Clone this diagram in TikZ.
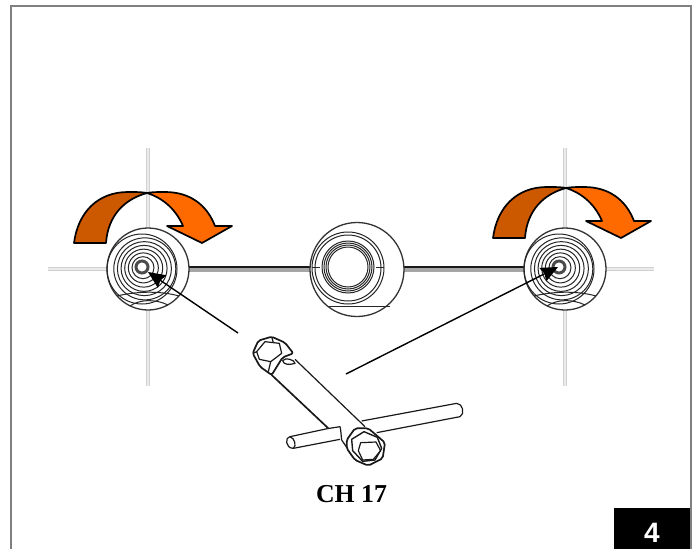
\documentclass[tikz,border=0pt]{standalone}
\usepackage{fontspec}
\setmainfont{Liberation Serif}
\newfontfamily\labelsans{Liberation Sans}
\usepackage{tikz}
\usetikzlibrary{arrows.meta}
\definecolor{turndark}{HTML}{CC5800}
\definecolor{turnlight}{HTML}{FF6A00}

\begin{document}
\begin{tikzpicture}[x=1pt,y=-1pt,
    guideband/.style={line width=4.5pt, black!8},
    guide/.style={line width=1.2pt, black!18},
    ring/.style={line width=1pt, black!85},
    outline/.style={line width=1.3pt, black!80},
    turn/.style={line width=1.7pt, black, line join=round},
    pointer/.style={line width=1.4pt, black, -{Stealth[length=17pt,width=15pt,inset=2pt]}},
    tool/.style={line width=1.2pt, black!90, line join=round}]
      \useasboundingbox (0,0) rectangle (699,549);

      % 外框
      \draw[line width=1.2pt, black!50] (11,549) -- (11,6) -- (691,6) -- (691,549);

      % 十字中心线
      \foreach \hx/\sx/\ex in {148/48/107, 565/605/654} {
        \draw[guideband] (\hx,148) -- (\hx,386);
        \draw[guideband] (\sx,269) -- (\ex,269);
        \draw[guide] (\hx-1.5,148) -- (\hx-1.5,386);
        \draw[guide] (\hx+1.5,148) -- (\hx+1.5,386);
        \draw[guide] (\sx,267.5) -- (\ex,267.5);
        \draw[guide] (\sx,270.5) -- (\ex,270.5);
      }

      % 连接管
      \foreach \sx/\ex in {189/310, 404/524} {
        \fill[black!35] (\sx,267) rectangle (\ex,271.5);
        \draw[line width=1.1pt, black!90] (\sx,267) -- (\ex,267);
      }

      % 把手的圆和同心环
      \def\knobface#1#2#3#4{%
        \fill[white] (#1,#2) circle (41);
        \draw[outline] (#1,#2) circle (41);
        \foreach \r in {11,15,19,23,27,31}
          \draw[ring] (#3+0.09*\r,#4+0.06*\r) circle (\r);
        \draw[ring] (#1-6,#2) circle (35);
        \draw[line width=3pt, black!70] (#3,#4) circle (6);
        \fill[white] (#3,#4) circle (2.5);
        \draw[ring] (#1-31,#2+27) .. controls (#1-15,#2+23) and (#1+10,#2+21) .. (#1+31,#2+27);
        \draw[ring] (#1-18,#2+37) .. controls (#1-8,#2+30) and (#1+8,#2+30) .. (#1+20,#2+36);
      }
      \knobface{148}{269}{142}{267}
      \knobface{565}{269}{559}{267}

      % 中间的把手
      \fill[white] (357,269.5) circle (47);
      \draw[outline] (357,269.5) circle (47);
      \foreach \r in {20,22,24,26}
        \draw[ring] (348,267) circle (\r);
      \draw[ring] (348,268) circle (33);
      \draw[ring] (348,268) circle (36);
      \draw[ring] (312,267) -- (320,267);
      \draw[ring] (376,267) -- (384,267);
      \draw[ring] (329,306) -- (390,306);

      % 旋转箭头
      \foreach \dx/\dy in {0/0, 419/-5} {
        \begin{scope}[shift={(\dx,\dy)}]
          \filldraw[turn, fill=turnlight] (147,193)
            .. controls (152,192) and (158,192) .. (165,192)
            .. controls (190,192) and (207,205) .. (215,226) -- (232,226) -- (202,243) -- (167,226) -- (183,226)
            .. controls (175,207) and (160,197) .. (147,193) -- cycle;
          \filldraw[turn, fill=turndark] (147,193)
            .. controls (142,192) and (136,192) .. (128,192)
            .. controls (98,192) and (78,212) .. (74,243) -- (106,243)
            .. controls (108,215) and (125,199) .. (147,193) -- cycle;
        \end{scope}
      }

      % 指向把手的箭头
      \coordinate (lefttail) at (238,333);
      \coordinate (lefttip) at (148,272);
      \coordinate (righttail) at (346,374);
      \coordinate (righttip) at (558,267);
      \draw[pointer] (lefttail) -- (lefttip);
      \draw[pointer] (righttail) -- (righttip);

      % 套筒扳手
      \begin{scope}[shift={(240,320)},scale=1/3]
        % 横杆
        \draw[tool] (365,303) -- (650,250) .. controls (668,250) and (676,282) .. (660,290) -- (410,338);
        \draw[tool] (300,358) -- (160,385) .. controls (135,385) and (135,350) .. (150,350) -- (262,326);
        \draw[tool] (262,326) -- (300,320) .. controls (303,330) and (303,345) .. (305,360);
        \draw[tool] (150,350) .. controls (165,355) and (170,378) .. (160,385);
        % 管身
        \draw[tool, line width=1.7pt] (95,165) -- (265,325);
        \draw[tool] (165,118) -- (375,320);
        \draw[tool] (305,360) -- (322,385);
        \draw[tool] (128,122) .. controls (135,110) and (165,120) .. (165,130) .. controls (150,135) and (130,135) .. (128,122) -- cycle;
        % 管端 1
        \filldraw[tool, fill=white, line width=1.7pt, rounded corners=2pt] (38,100) -- (55,62) -- (95,50) -- (135,68) -- (160,100) -- (128,112) -- (95,165) -- (60,140) -- cycle;
        \draw[tool] (50,95) -- (75,65) -- (118,70) -- (125,100) -- (92,125) -- (58,118) -- cycle;
        \draw[tool] (38,100) -- (50,95) (95,50) -- (100,68) (92,125) -- (85,155);
        % 管端 2
        \filldraw[tool, fill=white, line width=1.7pt, rounded corners=2pt] (320,360) -- (345,325) -- (385,325) -- (435,368) -- (428,415) -- (385,437) -- (345,420) -- (320,385) -- cycle;
        \filldraw[tool, fill=white, line width=1.4pt] (335,358) -- (372,335) -- (412,352) -- (425,385) -- (405,420) -- (368,424) -- (338,392) -- cycle;
        \draw[tool] (362,368) -- (408,366) -- (422,392) -- (400,418) -- (368,420) -- (355,392) -- cycle;
      \end{scope}

      % 文字
      \node[font=\fontsize{25.8}{30}\selectfont\bfseries] (sizelabel) at (351.5,494) {CH 17};
      \node[fill=black, minimum width=76pt, minimum height=41pt, inner sep=0pt, anchor=north west] (pagebox) at (614,508) {};
      \node[font=\fontsize{28}{28}\selectfont\labelsans\bfseries, text=white, inner sep=0pt] (pagenumber) at (652,533) {4};
    \end{tikzpicture}
\end{document}
